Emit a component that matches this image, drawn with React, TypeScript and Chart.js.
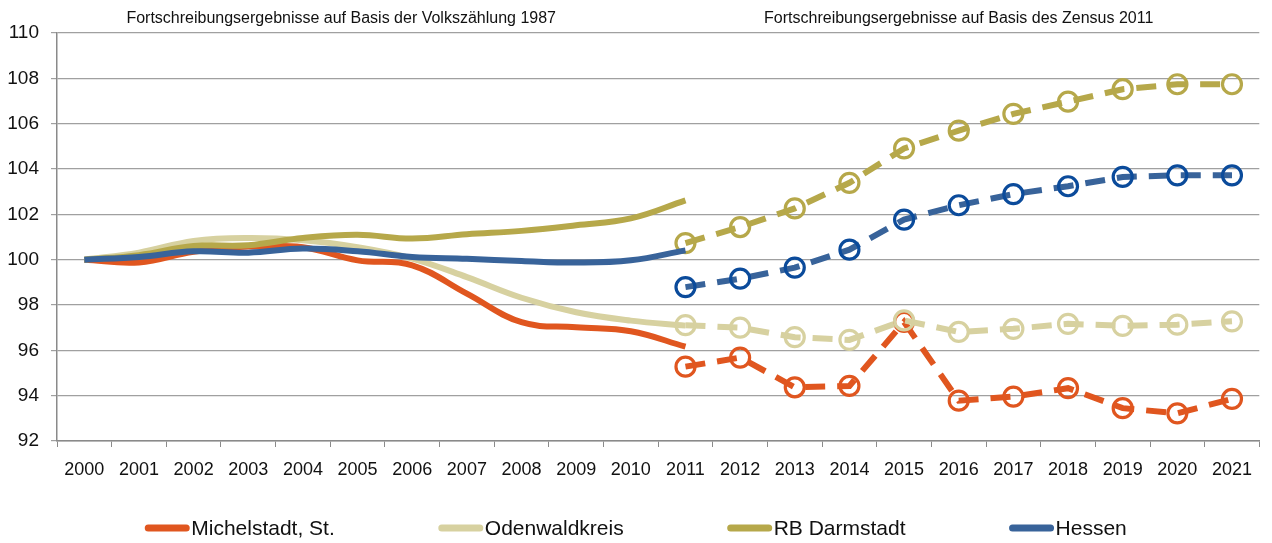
import React, { useEffect, useRef } from 'react';
import { Chart, registerables } from 'chart.js';

Chart.register(...registerables);

const FONT = '"Liberation Sans", Arial, Helvetica, sans-serif';

const years = ['2000', '2001', '2002', '2003', '2004', '2005', '2006', '2007', '2008', '2009', '2010',
  '2011', '2012', '2013', '2014', '2015', '2016', '2017', '2018', '2019', '2020', '2021'];

const seriesNames = ['Michelstadt, St.', 'Odenwaldkreis', 'RB Darmstadt', 'Hessen'];

// Fortschreibung auf Basis der Volkszählung 1987 (2000–2011)
const michelstadtVZ = [100, 99.88, 100.35, 100.58, 100.55, 99.97, 99.75, 98.5, 97.24, 97.02, 96.84, 96.16];
const odenwaldVZ = [100, 100.31, 100.83, 100.96, 100.86, 100.55, 100.05, 99.23, 98.32, 97.68, 97.31, 97.09];
const rbDarmstadtVZ = [100, 100.2, 100.6, 100.64, 100.96, 101.1, 100.93, 101.12, 101.27, 101.52, 101.82, 102.62];
const hessenVZ = [100, 100.12, 100.37, 100.31, 100.49, 100.37, 100.12, 100.04, 99.94, 99.87, 99.97, 100.41];

// Fortschreibung auf Basis des Zensus 2011 (2011–2021)
const michelstadtZ = [95.28, 95.68, 94.37, 94.43, 97.25, 93.78, 93.96, 94.33, 93.45, 93.22, 93.86];
const odenwaldZ = [97.11, 97.0, 96.58, 96.46, 97.32, 96.81, 96.95, 97.17, 97.08, 97.13, 97.28];
const rbDarmstadtZ = [100.73, 101.44, 102.26, 103.39, 104.91, 105.69, 106.43, 106.97, 107.52, 107.74, 107.74];
const hessenZ = [98.79, 99.16, 99.65, 100.44, 101.77, 102.4, 102.89, 103.24, 103.65, 103.72, 103.72];

const sectionTitles = [
  'Fortschreibungsergebnisse auf Basis der Volkszählung 1987',
  'Fortschreibungsergebnisse auf Basis des Zensus 2011',
];

const yMin = 92;
const yMax = 110;
const yStep = 2;

const lineColors = ['#E0561F', '#D7D1A0', '#B6A84A', '#38639A'];
const markerColors = ['#E0561F', '#D7D1A0', '#B6A84A', '#0B4B9B'];

const padLeft = (vals: number[]) => [...Array(years.length - vals.length).fill(null), ...vals];
const padRight = (vals: number[]) => [...vals, ...Array(years.length - vals.length).fill(null)];

const vzSeries = [michelstadtVZ, odenwaldVZ, rbDarmstadtVZ, hessenVZ];
const zSeries = [michelstadtZ, odenwaldZ, rbDarmstadtZ, hessenZ];

const titlesPlugin = {
  id: 'sectionTitles',
  afterDraw(chart: any) {
    const { ctx } = chart;
    const x = chart.scales.x;
    ctx.save();
    ctx.font = `16px ${FONT}`;
    ctx.fillStyle = '#111';
    ctx.textAlign = 'center';
    ctx.textBaseline = 'middle';
    ctx.fillText(sectionTitles[0], x.getPixelForValue(4.7), 19);
    ctx.fillText(sectionTitles[1], x.getPixelForValue(16.0), 19);
    ctx.restore();
  },
};

const legendPlugin = {
  id: 'lineLegend',
  afterDraw(chart: any) {
    const { ctx, width } = chart;
    ctx.save();
    ctx.font = `21px ${FONT}`;
    const sample = 44;
    const gap = 2;
    const spacing = 104;
    const widths = seriesNames.map((n) => sample + gap + ctx.measureText(n).width);
    const total = widths.reduce((a, b) => a + b, 0) + spacing * (seriesNames.length - 1);
    let xPos = (width - total) / 2;
    const yPos = 528;
    seriesNames.forEach((name, i) => {
      ctx.strokeStyle = lineColors[i];
      ctx.lineWidth = 7;
      ctx.lineCap = 'round';
      ctx.beginPath();
      ctx.moveTo(xPos + 3, yPos);
      ctx.lineTo(xPos + sample - 3, yPos);
      ctx.stroke();
      ctx.fillStyle = '#111';
      ctx.textAlign = 'left';
      ctx.textBaseline = 'middle';
      ctx.fillText(name, xPos + sample + gap, yPos + 1);
      xPos += widths[i] + spacing;
    });
    ctx.restore();
  },
};

export default function App() {
  const canvasRef = useRef<HTMLCanvasElement | null>(null);

  useEffect(() => {
    if (!canvasRef.current) return;
    const datasets: any[] = [];
    // draw order: Hessen on top, then RB Darmstadt, Odenwaldkreis, Michelstadt
    const orderBase = [6, 4, 2, 0];
    seriesNames.forEach((name, i) => {
      datasets.push({
        label: name,
        data: padRight(vzSeries[i]),
        borderColor: lineColors[i],
        backgroundColor: lineColors[i],
        borderWidth: 6,
        tension: 0.4,
        pointRadius: 0,
        pointHoverRadius: 0,
        spanGaps: false,
        order: orderBase[i],
      });
      datasets.push({
        label: name + ' (Zensus 2011)',
        data: padLeft(zSeries[i]),
        borderColor: lineColors[i],
        backgroundColor: 'rgba(0,0,0,0)',
        borderWidth: 6,
        borderDash: [20, 12],
        tension: 0,
        pointRadius: 9.5,
        pointHoverRadius: 9.5,
        pointBorderWidth: 3.2,
        pointBorderColor: markerColors[i],
        pointBackgroundColor: 'rgba(0,0,0,0)',
        spanGaps: false,
        order: orderBase[i] + 1,
      });
    });

    const chart = new Chart(canvasRef.current, {
      type: 'line',
      data: { labels: years, datasets },
      options: {
        animation: false,
        responsive: true,
        maintainAspectRatio: false,
        layout: { padding: { top: 33, right: 10, left: 0, bottom: 0 } },
        plugins: {
          legend: { display: false },
          tooltip: { enabled: false },
          title: { display: false },
        },
        scales: {
          x: {
            type: 'category',
            offset: true,
            grid: {
              offset: true,
              drawOnChartArea: false,
              drawTicks: true,
              tickLength: 6,
              color: '#8a8a8a',
            },
            border: { display: true, color: '#8a8a8a', width: 1.5 },
            ticks: {
              color: '#111',
              font: { family: FONT, size: 18 },
              padding: 12,
              maxRotation: 0,
              autoSkip: false,
            },
            afterFit(scale: any) {
              scale.height = 102;
            },
          },
          y: {
            min: yMin,
            max: yMax,
            grid: {
              color: '#a0a0a0',
              lineWidth: 1.2,
              drawTicks: true,
              tickLength: 6,
            },
            border: { display: true, color: '#8a8a8a', width: 1.5 },
            ticks: {
              stepSize: yStep,
              color: '#111',
              font: { family: FONT, size: 19 },
              padding: 12,
            },
            afterFit(scale: any) {
              scale.width = 57;
            },
          },
        },
      },
      plugins: [titlesPlugin, legendPlugin],
    });
    return () => chart.destroy();
  }, []);

  return (
    <div style={{ position: 'fixed', left: 0, top: 0, width: 1272, height: 543, background: '#fff' }}>
      <canvas ref={canvasRef} />
    </div>
  );
}
